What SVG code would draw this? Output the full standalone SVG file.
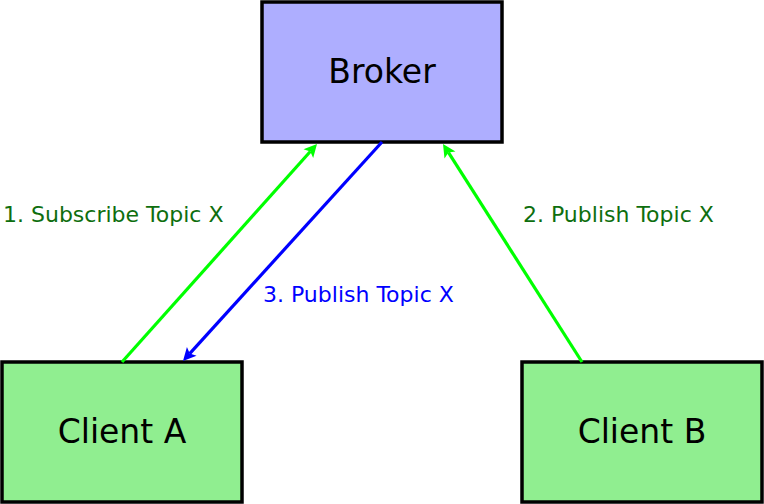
<svg xmlns="http://www.w3.org/2000/svg" width="764" height="504" viewBox="0 0 764 504">
<defs>
<style>
.node rect{stroke:#000;stroke-width:3.5}
.node text{font-family:"DejaVu Sans",sans-serif;font-size:33px;text-anchor:middle;fill:#000}
.lbl{font-family:"DejaVu Sans",sans-serif;font-size:22px}
.c{fill:none;stroke-width:3.2}
.g{stroke:#00ff00}
.b{stroke:#0000ff}
.hg{fill:#00ff00}
.hb{fill:#0000ff}
</style>
</defs>
<g id="broker" class="node">
<rect x="262" y="2" width="240" height="140" fill="#aeaeff"/>
<text x="382" y="83">Broker</text>
</g>
<g id="clientA" class="node">
<rect x="2" y="362" width="240" height="140" fill="#90ee90"/>
<text x="122" y="443">Client A</text>
</g>
<g id="clientB" class="node">
<rect x="522" y="362" width="240" height="140" fill="#90ee90"/>
<text x="642" y="443">Client B</text>
</g>
<g id="connectors">
<line class="c g" x1="122" y1="362" x2="310.3" y2="151.5"/>
<polygon class="hg" points="317,144 313.18,158.02 310.33,151.45 303.49,149.36"/>
<line class="c b" x1="382" y1="142" x2="189.7" y2="353.6"/>
<polygon class="hb" points="183,361 186.93,347.01 189.73,353.6 196.55,355.75"/>
<line class="c g" x1="582" y1="362" x2="448.4" y2="152.4"/>
<polygon class="hg" points="443,144 455.47,151.47 448.38,152.43 444.51,158.46"/>
<text class="lbl" x="3" y="222" fill="#0e6e0e">1. Subscribe Topic X</text>
<text class="lbl" x="523" y="222" fill="#0e6e0e">2. Publish Topic X</text>
<text class="lbl" x="263" y="302" fill="#0000ff">3. Publish Topic X</text>
</g>
</svg>
